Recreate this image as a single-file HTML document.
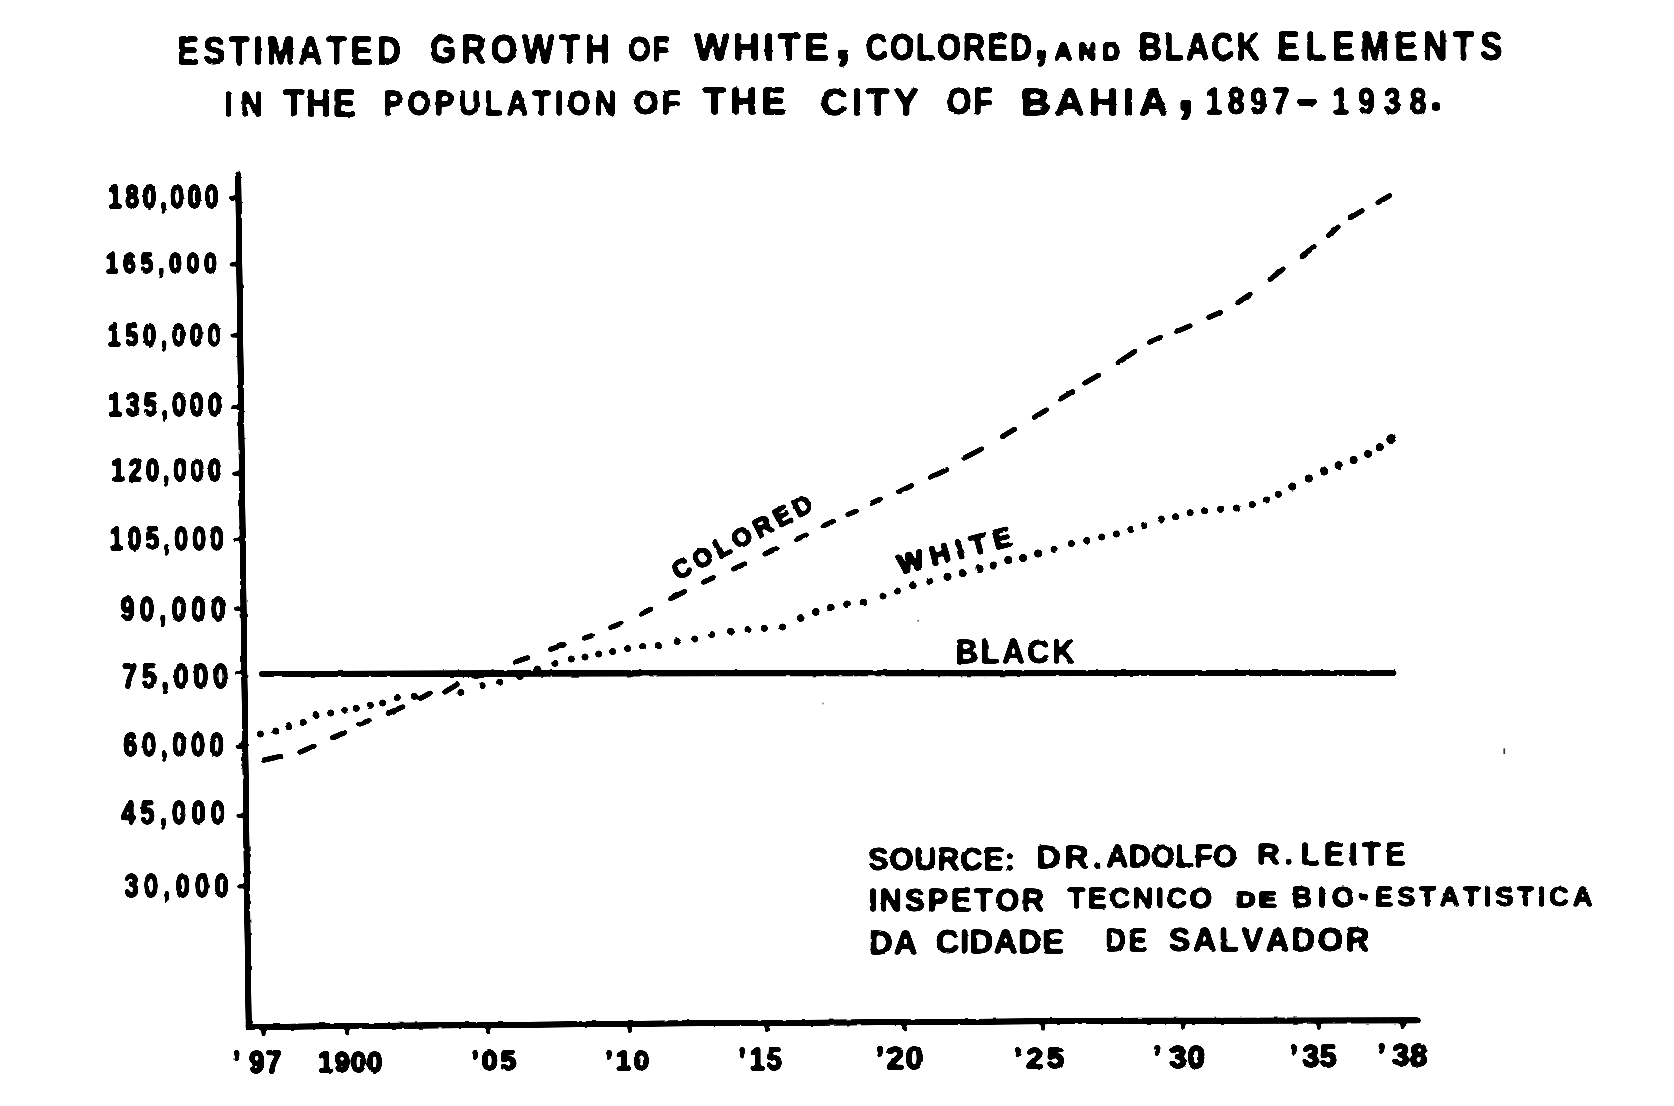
<!DOCTYPE html>
<html lang="en">
<head>
<meta charset="utf-8">
<title>Estimated growth of white, colored, and black elements in the population of the city of Bahia, 1897-1938</title>
<style>
html,body{margin:0;padding:0;background:#fff;}
body{width:1674px;height:1106px;overflow:hidden;}
svg{display:block;}
text{font-family:"Liberation Sans",sans-serif;font-weight:700;fill:#000;stroke:#000;stroke-linejoin:round;font-kerning:none;white-space:pre;}
</style>
</head>
<body>
<svg width="1674" height="1106" viewBox="0 0 1674 1106">
<defs>
<filter id="ink" x="0" y="0" width="1674" height="1106" filterUnits="userSpaceOnUse" color-interpolation-filters="sRGB">
<feGaussianBlur in="SourceGraphic" stdDeviation="1.0" result="b"/>
<feComponentTransfer in="b" result="t"><feFuncA type="linear" slope="9" intercept="-3.5"/></feComponentTransfer>
<feTurbulence type="fractalNoise" baseFrequency="0.11" numOctaves="2" seed="7" result="n"/>
<feDisplacementMap in="t" in2="n" scale="2.4" xChannelSelector="R" yChannelSelector="G"/>
</filter>
</defs>
<rect width="1674" height="1106" fill="#fff"/>
<g filter="url(#ink)">
<g id="title">
<text transform="translate(176.99,63.80) scale(0.84,1)" style="font-size:39.24px;letter-spacing:4.96px" stroke-width="1.0">ESTIMATED</text>
<text transform="translate(429.81,63.00) scale(0.84,1)" style="font-size:40.41px;letter-spacing:5.97px" stroke-width="1.0">GROWTH</text>
<text transform="translate(628.22,60.50) scale(0.8,1)" style="font-size:35.90px;letter-spacing:2.18px" stroke-width="1.0">OF</text>
<text transform="translate(694.36,59.50) scale(1.0,1)" style="font-size:37.06px;letter-spacing:3.77px" stroke-width="1.0">WHITE</text>
<text transform="translate(865.74,59.50) scale(0.84,1)" style="font-size:36.63px;letter-spacing:2.52px" stroke-width="1.0">COLORED</text>
<text transform="translate(1054.59,60.30) scale(1.0,1)" style="font-size:24.42px;letter-spacing:6.16px" stroke-width="1.6">AND</text>
<text transform="translate(1138.85,60.30) scale(0.84,1)" style="font-size:38.23px;letter-spacing:2.55px" stroke-width="1.0">BLACK</text>
<text transform="translate(1277.35,60.00) scale(0.84,1)" style="font-size:39.97px;letter-spacing:7.17px" stroke-width="1.0">ELEMENTS</text>
<text transform="translate(224.32,116.00) scale(0.84,1)" style="font-size:35.32px;letter-spacing:10.02px" stroke-width="1.0">IN</text>
<text transform="translate(283.31,116.00) scale(0.95,1)" style="font-size:36.34px;letter-spacing:1.79px" stroke-width="1.0">THE</text>
<text transform="translate(383.42,115.00) scale(0.84,1)" style="font-size:35.18px;letter-spacing:5.17px" stroke-width="1.0">POPULATION</text>
<text transform="translate(633.49,114.00) scale(0.95,1)" style="font-size:33.72px;letter-spacing:2.95px" stroke-width="1.0">OF</text>
<text transform="translate(703.39,114.00) scale(1.0,1)" style="font-size:36.34px;letter-spacing:4.88px" stroke-width="1.0">THE</text>
<text transform="translate(820.45,114.50) scale(1.0,1)" style="font-size:37.79px;letter-spacing:4.03px" stroke-width="1.0">CITY</text>
<text transform="translate(946.39,114.00) scale(0.88,1)" style="font-size:36.34px;letter-spacing:2.25px" stroke-width="1.0">OF</text>
<text transform="translate(1021.08,115.00) scale(1.12,1)" style="font-size:36.34px;letter-spacing:4.09px" stroke-width="1.0">BAHIA</text>
<text transform="translate(1205.28,114.00) scale(0.84,1)" style="font-size:36.34px;letter-spacing:6.49px" stroke-width="1.0">1897</text>
<text transform="translate(1332.08,114.00) scale(0.84,1)" style="font-size:36.34px;letter-spacing:10.54px" stroke-width="1.0">1938</text>
<text transform="translate(834.23,57.60) scale(1.233,1)" style="font-size:51.04px" stroke="none">,</text>
<text transform="translate(1033.65,57.95) scale(1.075,1)" style="font-size:50.05px" stroke="none">,</text>
<text transform="translate(1176.49,110.07) scale(1.090,1)" style="font-size:60.91px" stroke="none">,</text>
<text transform="translate(1295.23,113.65) scale(1.564,1)" style="font-size:45.32px" stroke-width="0.8">-</text>
<text transform="translate(1429.72,110.40) scale(0.993,1)" style="font-size:45.66px" stroke-width="1.2">.</text>
</g>
<g id="ylabels">
<text transform="translate(108.01,208.05) scale(0.76,1)" style="font-size:32.56px;letter-spacing:4.65px" stroke-width="1.5">180,000</text>
<text transform="translate(105.52,273.05) scale(0.76,1)" style="font-size:30.38px;letter-spacing:6.14px" stroke-width="1.5">165,000</text>
<text transform="translate(107.58,345.65) scale(0.76,1)" style="font-size:31.11px;letter-spacing:6.07px" stroke-width="1.5">150,000</text>
<text transform="translate(107.98,415.75) scale(0.76,1)" style="font-size:33.29px;letter-spacing:4.90px" stroke-width="1.5">135,000</text>
<text transform="translate(111.25,481.15) scale(0.76,1)" style="font-size:31.83px;letter-spacing:4.94px" stroke-width="1.5">120,000</text>
<text transform="translate(109.61,549.75) scale(0.76,1)" style="font-size:32.56px;letter-spacing:5.44px" stroke-width="1.5">105,000</text>
<text transform="translate(120.17,620.85) scale(0.76,1)" style="font-size:34.16px;letter-spacing:6.80px" stroke-width="1.5">90,000</text>
<text transform="translate(121.91,687.85) scale(0.76,1)" style="font-size:35.61px;letter-spacing:6.15px" stroke-width="1.5">75,000</text>
<text transform="translate(123.24,756.35) scale(0.76,1)" style="font-size:33.29px;letter-spacing:6.12px" stroke-width="1.5">60,000</text>
<text transform="translate(121.19,824.45) scale(0.76,1)" style="font-size:33.29px;letter-spacing:6.92px" stroke-width="1.5">45,000</text>
<text transform="translate(124.59,897.05) scale(0.76,1)" style="font-size:33.29px;letter-spacing:7.00px" stroke-width="1.5">30,000</text>
</g>
<g id="xlabels">
<text transform="translate(0,1073.25) scale(0.879,1)" x="264.91 283.15 302.44" style="font-size:31.98px" stroke-width="1.5">’97</text>
<text transform="translate(0,1070.05) scale(1.05,1)" x="448.86 458.69 476.41" style="font-size:27.91px" stroke-width="1.5">’05</text>
<text transform="translate(0,1070.05) scale(1.011,1)" x="598.46 608.88 626.61" style="font-size:27.91px" stroke-width="1.5">’10</text>
<text transform="translate(0,1070.05) scale(0.875,1)" x="843.64 856.59 876.07" style="font-size:31.54px" stroke-width="1.5">’15</text>
<text transform="translate(0,1069.35) scale(1.044,1)" x="838.53 849.12 867.24" style="font-size:30.52px" stroke-width="1.5">’20</text>
<text transform="translate(0,1068.15) scale(1.05,1)" x="965.39 977.15 996.84" style="font-size:29.80px" stroke-width="1.5">’25</text>
<text transform="translate(0,1068.15) scale(1.021,1)" x="1129.23 1145.30 1163.18" style="font-size:30.67px" stroke-width="1.5">’30</text>
<text transform="translate(0,1067.45) scale(0.996,1)" x="1294.85 1307.58 1325.12" style="font-size:30.67px" stroke-width="1.5">’35</text>
<text transform="translate(0,1066.35) scale(1.015,1)" x="1356.90 1371.47 1389.05" style="font-size:30.67px" stroke-width="1.5">’38</text>
<text transform="translate(318.07,1071.75) scale(0.95,1)" style="font-size:29.07px;letter-spacing:1.02px" stroke-width="1.5">1900</text>
</g>
<g id="source">
<text transform="translate(868.11,870.00) scale(0.97,1)" style="font-size:31.98px;letter-spacing:0.66px" stroke-width="1.0">SOURCE:</text>
<text transform="translate(1036.55,868.20) scale(1.1,1)" style="font-size:30.52px;letter-spacing:3.47px" stroke-width="1.0">DR.</text>
<text transform="translate(1106.24,866.60) scale(0.97,1)" style="font-size:31.40px;letter-spacing:0.43px" stroke-width="1.0">ADOLFO</text>
<text transform="translate(1257.08,864.40) scale(1.05,1)" style="font-size:30.23px;letter-spacing:3.97px" stroke-width="1.0">R.</text>
<text transform="translate(1300.77,864.60) scale(0.97,1)" style="font-size:31.25px;letter-spacing:4.85px" stroke-width="1.0">LEITE</text>
<text transform="translate(868.65,910.50) scale(0.97,1)" style="font-size:31.54px;letter-spacing:2.81px" stroke-width="1.0">INSPETOR</text>
<text transform="translate(1067.57,908.00) scale(0.97,1)" style="font-size:30.09px;letter-spacing:2.29px" stroke-width="1.0">TECNICO</text>
<text transform="translate(1235.86,907.40) scale(1.2,1)" style="font-size:22.97px;letter-spacing:2.20px" stroke-width="1.5">DE</text>
<text transform="translate(1291.49,906.50) scale(0.97,1)" style="font-size:29.51px;letter-spacing:6.05px" stroke-width="1.0">BIO</text>
<text transform="translate(1374.96,906.00) scale(0.97,1)" style="font-size:28.34px;letter-spacing:3.86px" stroke-width="1.0">ESTATISTICA</text>
<text transform="translate(869.01,954.00) scale(0.97,1)" style="font-size:33.72px;letter-spacing:1.04px" stroke-width="1.0">DA</text>
<text transform="translate(935.85,952.50) scale(0.97,1)" style="font-size:33.87px;letter-spacing:0.45px" stroke-width="1.0">CIDADE</text>
<text transform="translate(1105.30,951.10) scale(0.88,1)" style="font-size:32.27px;letter-spacing:2.68px" stroke-width="1.0">DE</text>
<text transform="translate(1168.67,950.50) scale(0.97,1)" style="font-size:33.43px;letter-spacing:2.73px" stroke-width="1.0">SALVADOR</text>
<text transform="translate(1357.72,907.45) scale(0.811,1)" style="font-size:40.29px" stroke-width="0.8">-</text>
</g>
<g id="curvelabels">
<text transform="translate(678.60,580.20) rotate(-27.5) translate(-1.04,0) scale(0.95,1)" style="font-size:26.60px;letter-spacing:4.87px" stroke-width="1.6">COLORED</text>
<text transform="translate(900.20,574.40) rotate(-14.5) translate(-0.03,0) scale(1.0,1)" style="font-size:27.91px;letter-spacing:6.80px" stroke-width="1.6">WHITE</text>
<text transform="translate(955.43,662.70) scale(0.95,1)" style="font-size:32.56px;letter-spacing:2.90px" stroke-width="0.9">BLACK</text>
</g>
<g id="axes" stroke="#000" fill="none" stroke-linecap="round">
<path d="M238.2 174.5 L248.7 1027" stroke-width="5.8"/>
<path d="M248.6 1027.2 L340.0 1026.2 L680.0 1023.4 L1140.0 1020.7 L1417.8 1020.4" stroke-width="5.8" stroke-linejoin="round"/>
<path d="M230.5 197.9 L238.5 197.3" stroke-width="3.9"/>
<path d="M231.3 264.5 L239.3 263.9" stroke-width="3.9"/>
<path d="M232.2 335.6 L240.2 335.0" stroke-width="3.9"/>
<path d="M233.1 407.3 L241.1 406.7" stroke-width="3.9"/>
<path d="M233.9 473.7 L241.9 473.1" stroke-width="3.9"/>
<path d="M234.7 540.0 L242.7 539.4" stroke-width="3.9"/>
<path d="M235.6 608.7 L243.6 608.1" stroke-width="3.9"/>
<path d="M236.3 673.1 L244.3 672.5" stroke-width="3.9"/>
<path d="M237.3 746.8 L245.3 746.2" stroke-width="3.9"/>
<path d="M238.1 815.9 L246.1 815.3" stroke-width="3.9"/>
<path d="M239.0 886.5 L247.0 885.9" stroke-width="3.9"/>
<path d="M263.3 1027.0 L263.6 1034.6" stroke-width="3.9"/>
<path d="M347.0 1026.1 L347.3 1033.7" stroke-width="3.9"/>
<path d="M488.0 1025.0 L488.3 1032.6" stroke-width="3.9"/>
<path d="M629.5 1023.8 L629.8 1031.4" stroke-width="3.9"/>
<path d="M766.6 1022.9 L766.9 1030.5" stroke-width="3.9"/>
<path d="M904.0 1022.1 L904.3 1029.7" stroke-width="3.9"/>
<path d="M1042.7 1021.3 L1043.0 1028.9" stroke-width="3.9"/>
<path d="M1183.0 1020.7 L1183.3 1028.3" stroke-width="3.9"/>
<path d="M1318.5 1020.5 L1318.8 1028.1" stroke-width="3.9"/>
<path d="M1402.4 1020.4 L1402.7 1028.0" stroke-width="3.9"/>
</g>
<path id="blackline" d="M262 673.9 L700 673.3 L1393.5 673" stroke="#000" stroke-width="6" stroke-linecap="round" fill="none"/>
<g id="colored" stroke="#000" stroke-width="5" stroke-linecap="round" fill="none">
<path d="M263.2 760.2 L281.0 756.3"/>
<path d="M299.8 752.2 L314.2 746.0"/>
<path d="M332.3 737.7 L344.7 732.6"/>
<path d="M359.7 724.1 L369.3 720.5"/>
<path d="M388.1 713.4 L403.0 706.8"/>
<path d="M420.2 698.5 L430.3 693.0"/>
<path d="M444.7 692.2 L457.3 684.3"/>
<path d="M475.2 676.7 L492.7 671.9"/>
<path d="M515.4 662.0 L527.9 657.7"/>
<path d="M550.5 649.4 L564.2 644.5"/>
<path d="M584.3 638.2 L591.8 635.7"/>
<path d="M610.7 627.6 L621.3 623.2"/>
<path d="M640.7 614.2 L650.9 609.0"/>
<path d="M670.8 598.4 L684.8 591.4"/>
<path d="M703.4 582.2 L713.6 577.5"/>
<path d="M733.5 569.1 L745.0 563.8"/>
<path d="M764.9 554.1 L776.3 548.7"/>
<path d="M796.2 539.6 L806.4 534.9"/>
<path d="M823.8 525.8 L832.8 521.6"/>
<path d="M847.8 514.5 L856.5 511.0"/>
<path d="M871.5 503.2 L880.4 499.0"/>
<path d="M899.1 491.8 L911.8 485.6"/>
<path d="M930.5 477.3 L946.9 469.7"/>
<path d="M963.8 458.2 L981.7 448.9"/>
<path d="M1002.2 436.7 L1014.7 429.2"/>
<path d="M1034.1 417.4 L1046.6 409.8"/>
<path d="M1060.1 399.1 L1072.6 391.6"/>
<path d="M1084.7 383.2 L1098.7 375.1"/>
<path d="M1118.0 362.8 L1134.9 351.4"/>
<path d="M1149.4 342.3 L1160.8 337.2"/>
<path d="M1177.4 331.3 L1190.2 325.8"/>
<path d="M1208.8 317.4 L1220.7 312.3"/>
<path d="M1237.6 302.9 L1250.2 294.1"/>
<path d="M1269.8 279.5 L1283.3 268.9"/>
<path d="M1302.0 255.9 L1314.3 246.6"/>
<path d="M1328.3 235.5 L1338.3 226.9"/>
<path d="M1350.1 217.9 L1362.2 210.6"/>
<path d="M1377.8 202.6 L1389.8 195.7"/>
</g>
<g id="white" fill="#000">
<circle cx="260.3" cy="734.0" r="3.5"/>
<circle cx="275.6" cy="731.1" r="3.5"/>
<circle cx="288.8" cy="726.7" r="3.5"/>
<circle cx="303.2" cy="722.5" r="3.5"/>
<circle cx="316.0" cy="715.6" r="3.5"/>
<circle cx="330.8" cy="712.9" r="3.5"/>
<circle cx="344.6" cy="710.6" r="3.5"/>
<circle cx="356.2" cy="708.3" r="3.5"/>
<circle cx="370.3" cy="705.3" r="3.5"/>
<circle cx="382.7" cy="703.1" r="3.5"/>
<circle cx="397.2" cy="697.4" r="3.5"/>
<circle cx="414.3" cy="696.2" r="3.5"/>
<circle cx="460.9" cy="692.6" r="3.5"/>
<circle cx="482.1" cy="685.7" r="3.5"/>
<circle cx="499.7" cy="682.2" r="3.5"/>
<circle cx="519.7" cy="676.4" r="3.5"/>
<circle cx="537.3" cy="668.9" r="3.5"/>
<circle cx="554.9" cy="663.2" r="3.5"/>
<circle cx="571.2" cy="658.9" r="3.5"/>
<circle cx="585.0" cy="657.1" r="3.5"/>
<circle cx="598.8" cy="653.9" r="3.5"/>
<circle cx="612.6" cy="651.4" r="3.5"/>
<circle cx="627.6" cy="648.5" r="3.5"/>
<circle cx="642.7" cy="646.6" r="3.5"/>
<circle cx="658.2" cy="645.5" r="3.5"/>
<circle cx="677.3" cy="641.5" r="3.5"/>
<circle cx="694.8" cy="639.0" r="3.5"/>
<circle cx="711.6" cy="634.4" r="3.5"/>
<circle cx="730.5" cy="631.2" r="3.5"/>
<circle cx="748.0" cy="629.4" r="3.5"/>
<circle cx="764.3" cy="628.2" r="3.5"/>
<circle cx="782.6" cy="626.9" r="3.5"/>
<circle cx="800.7" cy="618.1" r="3.8"/>
<circle cx="815.8" cy="611.9" r="3.8"/>
<circle cx="830.8" cy="607.6" r="3.8"/>
<circle cx="847.1" cy="604.3" r="3.8"/>
<circle cx="863.4" cy="602.6" r="3.8"/>
<circle cx="883.0" cy="596.0" r="3.5"/>
<circle cx="897.3" cy="591.0" r="3.5"/>
<circle cx="913.1" cy="584.8" r="3.5"/>
<circle cx="929.9" cy="581.7" r="3.5"/>
<circle cx="947.5" cy="576.7" r="4.0"/>
<circle cx="962.7" cy="573.0" r="4.0"/>
<circle cx="979.5" cy="569.0" r="4.0"/>
<circle cx="993.6" cy="565.5" r="4.0"/>
<circle cx="1008.3" cy="560.0" r="4.0"/>
<circle cx="1023.1" cy="557.9" r="4.0"/>
<circle cx="1038.1" cy="553.5" r="4.0"/>
<circle cx="1054.1" cy="549.2" r="3.5"/>
<circle cx="1071.4" cy="543.4" r="3.5"/>
<circle cx="1086.8" cy="540.5" r="3.5"/>
<circle cx="1101.8" cy="537.0" r="3.5"/>
<circle cx="1116.3" cy="534.1" r="3.5"/>
<circle cx="1130.8" cy="529.5" r="3.5"/>
<circle cx="1143.8" cy="525.4" r="3.5"/>
<circle cx="1161.2" cy="519.1" r="3.5"/>
<circle cx="1175.6" cy="516.8" r="3.5"/>
<circle cx="1190.1" cy="512.7" r="3.5"/>
<circle cx="1204.6" cy="510.7" r="3.5"/>
<circle cx="1220.5" cy="509.2" r="3.5"/>
<circle cx="1236.4" cy="508.1" r="3.5"/>
<circle cx="1252.3" cy="504.6" r="3.5"/>
<circle cx="1266.2" cy="500.0" r="3.5"/>
<circle cx="1278.4" cy="494.2" r="3.5"/>
<circle cx="1292.3" cy="486.4" r="4.0"/>
<circle cx="1308.8" cy="478.6" r="4.0"/>
<circle cx="1324.1" cy="471.6" r="4.0"/>
<circle cx="1338.6" cy="465.2" r="4.0"/>
<circle cx="1353.6" cy="460.0" r="4.0"/>
<circle cx="1368.1" cy="453.7" r="4.0"/>
<circle cx="1379.7" cy="447.3" r="4.0"/>
<circle cx="1391.3" cy="439.2" r="4.9"/>
</g>
</g>
<g id="specks" fill="#333">
<rect x="1503.4" y="748.4" width="1.7" height="5.6"/>
<circle cx="823" cy="703.5" r="0.9" fill="#888"/>
<circle cx="918.2" cy="620.8" r="1" fill="#666"/>
</g>
</svg>
</body>
</html>
